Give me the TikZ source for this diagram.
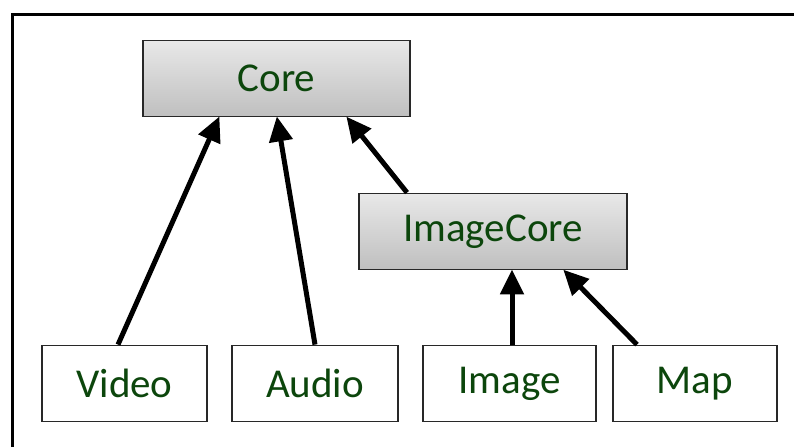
\documentclass[tikz,border=0pt]{standalone}
\usepackage{fontspec}
\setmainfont{Carlito}
\usetikzlibrary{arrows.meta}
\definecolor{txtgreen}{RGB}{12,70,12}
\definecolor{boxline}{RGB}{40,40,40}
\tikzset{
  basebox/.style={draw=boxline, line width=1.8pt, inner sep=0pt, text=txtgreen,
    font=\fontsize{41}{44}\selectfont, minimum height=76pt},
  corebox/.style={basebox, top color=black!9, bottom color=black!25, minimum width=267pt},
  leafbox/.style={basebox, fill=white},
  inh/.style={line width=5pt, -{Triangle[length=25pt,width=23pt]}, shorten >=-1pt}
}
\begin{document}
\begin{tikzpicture}[x=1pt,y=-1pt]
\useasboundingbox (0,0) rectangle (794,447);
\draw[line width=3pt] (12.5,447) |- (794,14.5);
\node[corebox] (core) at (276.5,78.5) {Core};
\node[corebox, minimum width=268pt] (imagecore) at (493,231.5) {ImageCore};
\node[leafbox, minimum width=165pt] (video) at (124.5,383.5) {Video};
\node[leafbox, minimum width=166pt] (audio) at (315,383.5) {Audio};
\node[leafbox, minimum width=173pt] (image) at (509.5,383.5) {Image};
\node[leafbox, minimum width=164pt] (map) at (695,383.5) {Map};
\draw[inh] ([xshift=-6.5pt]video.north) -- ([xshift=-57.5pt]core.south);
\draw[inh] (audio.north) -- ([xshift=0.5pt]core.south);
\draw[inh] ([xshift=-86pt]imagecore.north) -- ([xshift=70.5pt]core.south);
\draw[inh] ([xshift=2.5pt]image.north) -- ([xshift=19pt]imagecore.south);
\draw[inh] ([xshift=-58pt]map.north) -- ([xshift=71pt]imagecore.south);
\end{tikzpicture}
\end{document}
